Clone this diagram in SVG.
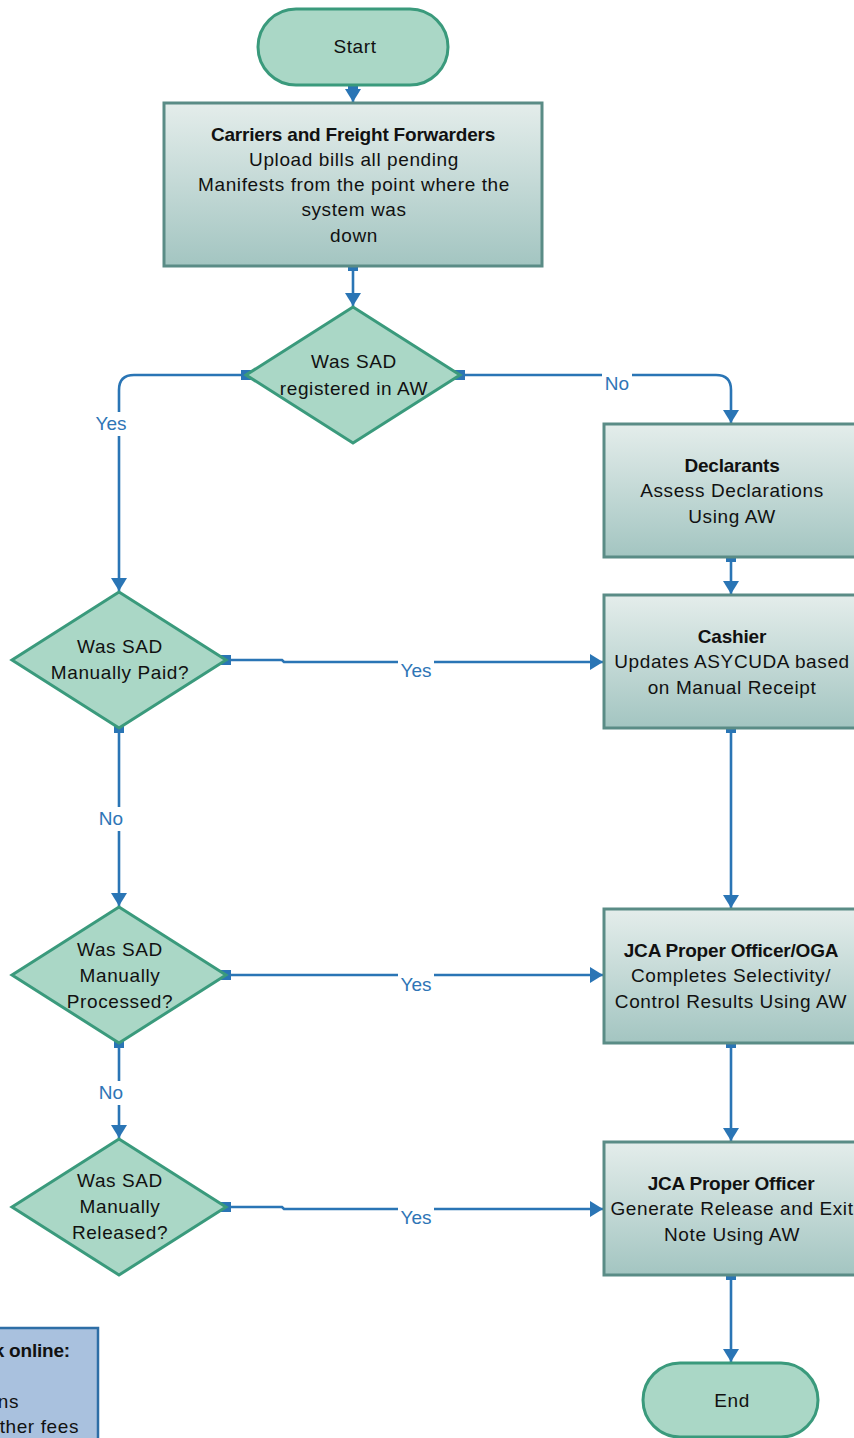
<svg xmlns="http://www.w3.org/2000/svg" width="854" height="1438" viewBox="0 0 854 1438">
<style>
.term{fill:#aad7c6;stroke:#3a9a7c;stroke-width:3}
.dec{fill:#aad7c6;stroke:#3a9a7c;stroke-width:3}
.proc{fill:url(#pg);stroke:#5a8c86;stroke-width:3}
.t{font-family:"Liberation Sans",Arial,sans-serif;font-size:19px;letter-spacing:0.6px;fill:#111;text-anchor:middle}
.b{font-weight:bold;letter-spacing:-0.2px}
.c{fill:none;stroke:#2a75b5;stroke-width:2.6}
.sq{fill:#2a75b5}
.lbl{font-family:"Liberation Sans",Arial,sans-serif;font-size:19px;fill:#2e75b6;text-anchor:middle}
.lb{fill:#fff}
</style>
<defs>
<linearGradient id="pg" x1="0" y1="0" x2="0" y2="1">
<stop offset="0" stop-color="#e4edeb"/>
<stop offset="1" stop-color="#a3c5c1"/>
</linearGradient>
<marker id="ah" markerWidth="16" markerHeight="18" refX="13" refY="8" orient="auto" markerUnits="userSpaceOnUse">
<path d="M0,0 L13,8 L0,16 Z" fill="#2a75b5"/>
</marker>
</defs>
<rect width="854" height="1438" fill="#fff"/>

<g id="connectors">
<path class="c" d="M353,85 V102" marker-end="url(#ah)"/>
<path class="c" d="M353,266 V306" marker-end="url(#ah)"/>
<path class="c" d="M246,375 H134 Q119,375 119,390 V591" marker-end="url(#ah)"/>
<path class="c" d="M460,375 H716 Q731,375 731,390 V423" marker-end="url(#ah)"/>
<path class="c" d="M731,557 V594" marker-end="url(#ah)"/>
<path class="c" d="M226,660 H282 L284,662 H603" marker-end="url(#ah)"/>
<path class="c" d="M119,728 V906" marker-end="url(#ah)"/>
<path class="c" d="M731,728 V908" marker-end="url(#ah)"/>
<path class="c" d="M226,975 H603" marker-end="url(#ah)"/>
<path class="c" d="M119,1043 V1138" marker-end="url(#ah)"/>
<path class="c" d="M731,1043 V1141" marker-end="url(#ah)"/>
<path class="c" d="M226,1207 H282 L284,1209 H603" marker-end="url(#ah)"/>
<path class="c" d="M731,1275 V1362" marker-end="url(#ah)"/>
<rect class="sq" x="348" y="80" width="10" height="10"/>
<rect class="sq" x="348" y="261" width="10" height="10"/>
<rect class="sq" x="241" y="370" width="10" height="10"/>
<rect class="sq" x="455" y="370" width="10" height="10"/>
<rect class="sq" x="726" y="552" width="10" height="10"/>
<rect class="sq" x="221" y="655" width="10" height="10"/>
<rect class="sq" x="114" y="723" width="10" height="10"/>
<rect class="sq" x="726" y="723" width="10" height="10"/>
<rect class="sq" x="221" y="970" width="10" height="10"/>
<rect class="sq" x="114" y="1038" width="10" height="10"/>
<rect class="sq" x="726" y="1038" width="10" height="10"/>
<rect class="sq" x="221" y="1202" width="10" height="10"/>
<rect class="sq" x="726" y="1270" width="10" height="10"/>
<rect class="lb" x="93" y="412" width="36" height="24"/>
<text class="lbl" x="111" y="430">Yes</text>
<rect class="lb" x="602" y="372" width="30" height="24"/>
<text class="lbl" x="617" y="390">No</text>
<rect class="lb" x="398" y="659" width="36" height="24"/>
<text class="lbl" x="416" y="677">Yes</text>
<rect class="lb" x="96" y="807" width="30" height="24"/>
<text class="lbl" x="111" y="825">No</text>
<rect class="lb" x="398" y="973" width="36" height="24"/>
<text class="lbl" x="416" y="991">Yes</text>
<rect class="lb" x="96" y="1081" width="30" height="24"/>
<text class="lbl" x="111" y="1099">No</text>
<rect class="lb" x="398" y="1206" width="36" height="24"/>
<text class="lbl" x="416" y="1224">Yes</text>
</g>

<g id="start">
<rect class="term" x="258" y="9" width="190" height="76" rx="38"/>
<text class="t" x="355" y="53">Start</text>
</g>

<g id="carriers">
<rect class="proc" x="164" y="103" width="378" height="163"/>
<text class="t b" x="353" y="141">Carriers and Freight Forwarders</text>
<text class="t" x="354" y="166">Upload bills all pending</text>
<text class="t" x="354" y="191">Manifests from the point where the</text>
<text class="t" x="354" y="216">system was</text>
<text class="t" x="354" y="242">down</text>
</g>

<g id="d1">
<polygon class="dec" points="353,307 460,375 353,443 246,375"/>
<text class="t" x="354" y="368">Was SAD</text>
<text class="t" x="354" y="395">registered in AW</text>
</g>

<g id="declarants">
<rect class="proc" x="604" y="424" width="254" height="133"/>
<text class="t b" x="732" y="472">Declarants</text>
<text class="t" x="732" y="497">Assess Declarations</text>
<text class="t" x="732" y="523">Using AW</text>
</g>

<g id="cashier">
<rect class="proc" x="604" y="595" width="254" height="133"/>
<text class="t b" x="732" y="643">Cashier</text>
<text class="t" x="732" y="668">Updates ASYCUDA based</text>
<text class="t" x="732" y="694">on Manual Receipt</text>
</g>

<g id="d2">
<polygon class="dec" points="119,592 226,660 119,728 12,660"/>
<text class="t" x="120" y="653">Was SAD</text>
<text class="t" x="120" y="679">Manually Paid?</text>
</g>

<g id="d3">
<polygon class="dec" points="119,907 226,975 119,1043 12,975"/>
<text class="t" x="120" y="956">Was SAD</text>
<text class="t" x="120" y="982">Manually</text>
<text class="t" x="120" y="1008">Processed?</text>
</g>

<g id="jcaoga">
<rect class="proc" x="604" y="909" width="254" height="134"/>
<text class="t b" x="731" y="957">JCA Proper Officer/OGA</text>
<text class="t" x="731" y="982">Completes Selectivity/</text>
<text class="t" x="731" y="1008">Control Results Using AW</text>
</g>

<g id="d4">
<polygon class="dec" points="119,1139 226,1207 119,1275 12,1207"/>
<text class="t" x="120" y="1187">Was SAD</text>
<text class="t" x="120" y="1213">Manually</text>
<text class="t" x="120" y="1239">Released?</text>
</g>

<g id="jcaproper">
<rect class="proc" x="604" y="1142" width="254" height="133"/>
<text class="t b" x="731" y="1190">JCA Proper Officer</text>
<text class="t" x="732" y="1215">Generate Release and Exit</text>
<text class="t" x="732" y="1241">Note Using AW</text>
</g>

<g id="end">
<rect class="term" x="643" y="1363" width="175" height="74" rx="37"/>
<text class="t" x="732" y="1407">End</text>
</g>

<g id="legend">
<rect x="-20" y="1328" width="118" height="130" fill="#a9c1de" stroke="#2e6ea6" stroke-width="2.5"/>
<text class="t b" x="70" y="1357" style="text-anchor:end">k online:</text>
<text class="t" x="19" y="1408" style="text-anchor:end">ns</text>
<text class="t" x="79" y="1433" style="text-anchor:end">ther fees</text>
</g>
</svg>
